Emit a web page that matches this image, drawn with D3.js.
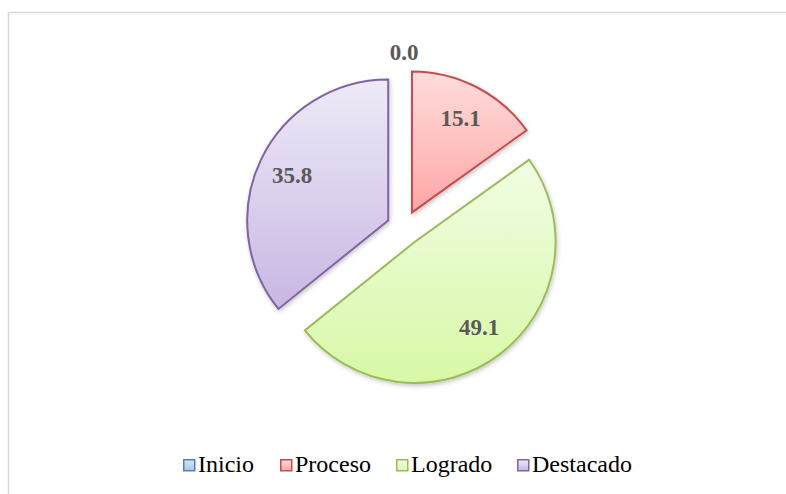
<!DOCTYPE html>
<html>
<head>
<meta charset="utf-8">
<script src="https://cdn.jsdelivr.net/npm/d3@7"></script>
<style>
  body { margin: 0; background: #fff; }
  svg { display: block; }
</style>
</head>
<body>
<svg id="chart"></svg>
<script>
// chart values
var categories = ["Inicio", "Proceso", "Logrado", "Destacado"];
var values = [0.0, 15.1, 49.1, 35.8];
var strokeColors = ["#4F81BD", "#C0504D", "#9BBB59", "#8064A2"];
var topColors = ["#DCE6F4", "#FFDCDC", "#F1FDE4", "#EEEAF7"];
var bottomColors = ["#A9C2E6", "#FFA6A6", "#D8F8A6", "#C8B7E3"];

var screen = { width: 786, height: 494 };
var center = { x: 404, y: 228 };
var radius = 141;
var explode = 17.5;

var svg = d3.select("#chart")
            .attr("width", screen.width)
            .attr("height", screen.height);

// chart border (only top/left visible in the picture)
svg.append("rect")
   .attr("x", 8.5)
   .attr("y", 12.5)
   .attr("width", 800)
   .attr("height", 500)
   .attr("fill", "white")
   .attr("stroke", "#D9D9D9")
   .attr("stroke-width", 1.5);

var defs = svg.append("defs");

categories.forEach(function(c, i) {
  var g = defs.append("linearGradient")
              .attr("id", "grad" + i)
              .attr("x1", 0).attr("y1", 0)
              .attr("x2", 0).attr("y2", 1);
  g.append("stop").attr("offset", "0%").attr("stop-color", topColors[i]);
  g.append("stop").attr("offset", "100%").attr("stop-color", bottomColors[i]);
});

var shadow = defs.append("filter")
                 .attr("id", "shadow")
                 .attr("x", "-20%").attr("y", "-20%")
                 .attr("width", "140%").attr("height", "140%");
shadow.append("feDropShadow")
      .attr("dx", 1).attr("dy", 2)
      .attr("stdDeviation", 2)
      .attr("flood-color", "#000")
      .attr("flood-opacity", 0.22);

var pie = d3.pie()
            .sort(null)
            .value(function(d) { return d; });

var arcs = pie(values);

var arc = d3.arc()
            .innerRadius(0)
            .outerRadius(radius);

var offsetOf = function(d) {
  var mid = (d.startAngle + d.endAngle) / 2;
  return [explode * Math.sin(mid), -explode * Math.cos(mid)];
};

var slices = svg.append("g")
                .attr("transform", "translate(" + center.x + "," + center.y + ")");

slices.selectAll("path")
      .data(arcs)
      .enter()
      .append("path")
      .attr("d", arc)
      .attr("transform", function(d) {
        var o = offsetOf(d);
        return "translate(" + o[0] + "," + o[1] + ")";
      })
      .attr("fill", function(d, i) { return "url(#grad" + i + ")"; })
      .attr("stroke", function(d, i) { return strokeColors[i]; })
      .attr("stroke-width", 2)
      .attr("stroke-linejoin", "miter")
      .attr("filter", "url(#shadow)");

// data labels
var labelPos = function(d) {
  var mid = (d.startAngle + d.endAngle) / 2;
  var r = d.value > 0 ? radius * 0.755 : radius + 18;
  var o = offsetOf(d);
  return [o[0] + r * Math.sin(mid), o[1] - r * Math.cos(mid)];
};

slices.selectAll("text")
      .data(arcs)
      .enter()
      .append("text")
      .text(function(d) { return d.value.toFixed(1); })
      .attr("x", function(d) { return labelPos(d)[0]; })
      .attr("y", function(d) { return labelPos(d)[1]; })
      .attr("dy", "0.35em")
      .attr("text-anchor", "middle")
      .attr("font-family", "'Liberation Serif', 'Times New Roman', serif")
      .attr("font-weight", "bold")
      .attr("font-size", "23px")
      .attr("fill", "#595959");

// legend
var legendX = [183, 280, 396, 517];
var legend = svg.append("g");

var items = legend.selectAll("g")
                  .data(categories)
                  .enter()
                  .append("g")
                  .attr("transform", function(d, i) { return "translate(" + legendX[i] + ",472)"; });

items.append("rect")
     .attr("x", 0.75)
     .attr("y", -12.25)
     .attr("width", 11)
     .attr("height", 11)
     .attr("fill", function(d, i) { return "url(#grad" + i + ")"; })
     .attr("stroke", function(d, i) { return strokeColors[i]; })
     .attr("stroke-width", 1.5);

items.append("text")
     .text(function(d) { return d; })
     .attr("x", 15)
     .attr("y", 0)
     .attr("font-family", "'Liberation Serif', 'Times New Roman', serif")
     .attr("font-size", "24px")
     .attr("fill", "#000");
</script>
</body>
</html>
